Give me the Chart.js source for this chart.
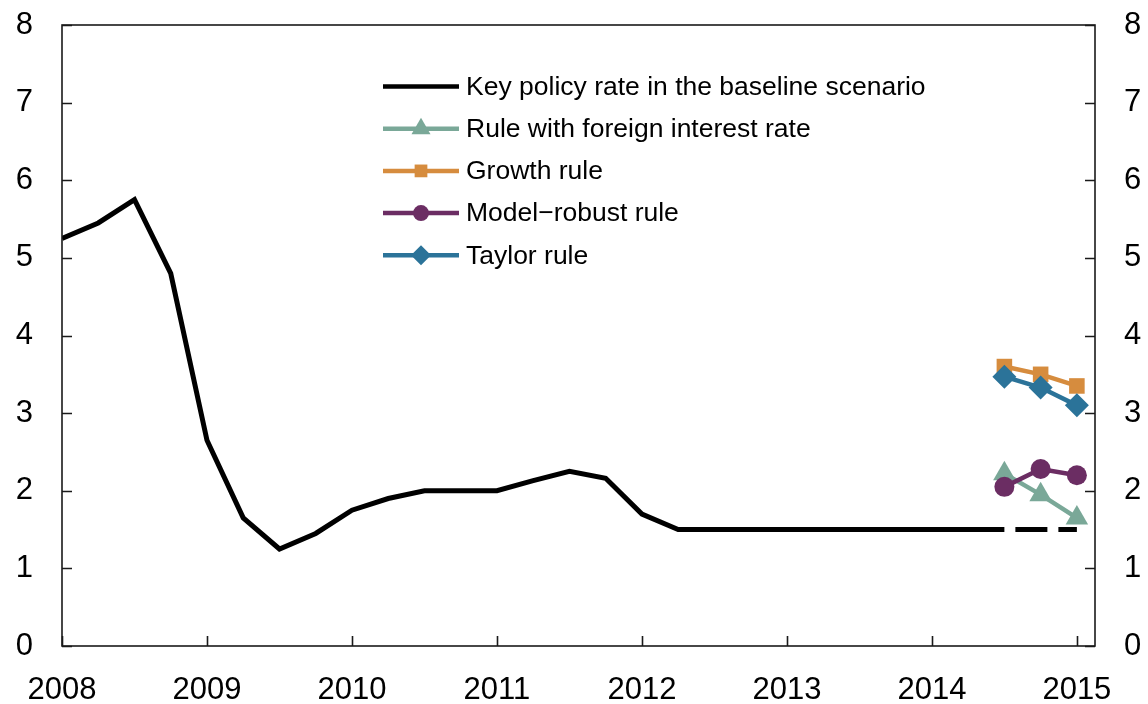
<!DOCTYPE html>
<html><head><meta charset="utf-8">
<script src="https://cdn.jsdelivr.net/npm/chart.js@4.4.1/dist/chart.umd.min.js"></script>
<style>html,body{margin:0;padding:0;background:#fff}#wrap{width:1148px;height:704px;position:relative}</style>
</head><body><div id="wrap"><canvas id="c" width="1148" height="704"></canvas></div>
<script>
// ---- data ----
const policyDates = [2008, 2008.25, 2008.5, 2008.75, 2009, 2009.25, 2009.5, 2009.75,
  2010, 2010.25, 2010.5, 2010.75, 2011, 2011.25, 2011.5, 2011.75,
  2012, 2012.25, 2012.5, 2012.75, 2013, 2013.25, 2013.5, 2013.75,
  2014, 2014.25, 2014.5, 2014.75, 2015];
const policyRate = [5.25, 5.45, 5.75, 4.8, 2.65, 1.65, 1.25, 1.45,
  1.75, 1.9, 2.0, 2.0, 2.0, 2.13, 2.25, 2.16,
  1.7, 1.5, 1.5, 1.5, 1.5, 1.5, 1.5, 1.5,
  1.5, 1.5, 1.5, 1.5, 1.5];
const forecastStart = 2014.5;
const ruleDates = [2014.5, 2014.75, 2015];
const foreignRule = [2.22, 1.95, 1.65];
const growthRule = [3.6, 3.5, 3.35];
const robustRule = [2.05, 2.28, 2.2];
const taylorRule = [3.47, 3.33, 3.1];
const yearTicks = [2008, 2009, 2010, 2011, 2012, 2013, 2014, 2015];
const rateTicks = [0, 1, 2, 3, 4, 5, 6, 7, 8];
const seriesNames = ['Key policy rate in the baseline scenario', 'Rule with foreign interest rate',
  'Growth rule', 'Model\u2212robust rule', 'Taylor rule'];

const FONT = "'Liberation Sans', Arial, Helvetica, sans-serif";
const COL = { black: '#000000', green: '#7aa898', orange: '#d68c3e', purple: '#6b2d63', blue: '#2b7399' };

const pts = (xs, ys) => xs.map((x, i) => ({ x: x, y: ys[i] }));

function ruleSet(label, ys, color, style, radius, legendRadius) {
  return {
    label: label, data: pts(ruleDates, ys), borderColor: color, backgroundColor: color,
    borderWidth: 4.5, pointStyle: style, pointRadius: radius, pointBorderWidth: 0,
    pointBackgroundColor: color, pointHoverRadius: radius, tension: 0, order: 1,
    legendStyle: style, legendRadius: legendRadius
  };
}

const datasets = [
  {
    label: seriesNames[0], data: pts(policyDates, policyRate), borderColor: COL.black,
    borderWidth: 5, pointRadius: 0, tension: 0, borderCapStyle: 'butt', borderJoinStyle: 'miter', order: 5,
    segment: {
      borderDash: ctx => ctx.p0.parsed.x >= forecastStart ? [32, 11] : undefined,
      borderDashOffset: ctx => ctx.p0.parsed.x >= forecastStart ? 32 : 0
    },
    legendStyle: null
  },
  ruleSet(seriesNames[1], foreignRule, COL.green, 'triangle', 13, 11),
  ruleSet(seriesNames[2], growthRule, COL.orange, 'rect', 11, 9),
  ruleSet(seriesNames[3], robustRule, COL.purple, 'circle', 10, 8),
  ruleSet(seriesNames[4], taylorRule, COL.blue, 'rectRot', 12, 10)
];
datasets[1].order = 4; datasets[3].order = 3; datasets[2].order = 2; datasets[4].order = 1;

const frameAndTicks = {
  id: 'frameAndTicks',
  afterDatasetsDraw(chart) {
    const { ctx, chartArea: a, scales } = chart;
    ctx.save();
    ctx.strokeStyle = '#1a1a1a';
    ctx.lineWidth = 1.6;
    ctx.beginPath();
    rateTicks.forEach(v => {
      const y = Math.round(scales.y.getPixelForValue(v)) + 0.5;
      ctx.moveTo(a.left, y); ctx.lineTo(a.left + 10, y);
      ctx.moveTo(a.right, y); ctx.lineTo(a.right - 10, y);
    });
    yearTicks.forEach(v => {
      const x = Math.round(scales.x.getPixelForValue(v)) + 0.5;
      ctx.moveTo(x, a.bottom); ctx.lineTo(x, a.bottom - 10);
    });
    ctx.stroke();
    ctx.strokeRect(a.left, a.top, a.right - a.left, a.bottom - a.top);
    ctx.restore();
  }
};

const legendPlugin = {
  id: 'customLegend',
  afterDraw(chart) {
    const { ctx } = chart;
    const x0 = 383, x1 = 459, tx = 466, y0 = 86.5, dy = 42.2;
    ctx.save();
    chart.data.datasets.forEach((ds, i) => {
      const y = y0 + i * dy;
      ctx.strokeStyle = ds.borderColor;
      ctx.lineWidth = 4.5;
      ctx.lineCap = 'butt';
      ctx.beginPath(); ctx.moveTo(x0, y); ctx.lineTo(x1, y); ctx.stroke();
      if (ds.legendStyle) {
        ctx.fillStyle = ds.borderColor;
        ctx.strokeStyle = ds.borderColor;
        Chart.helpers.drawPoint(ctx, { pointStyle: ds.legendStyle, radius: ds.legendRadius, rotation: 0, borderWidth: 0 }, (x0 + x1) / 2, y);
      }
      ctx.fillStyle = '#000';
      ctx.font = '26.5px ' + FONT;
      ctx.textAlign = 'left';
      ctx.textBaseline = 'middle';
      ctx.fillText(ds.label, tx, y + 1);
    });
    ctx.restore();
  }
};

const tickFont = { family: FONT, size: 31 };
const noVPad = (w) => s => { s.width = w; s.paddingTop = 0; s.paddingBottom = 0; };

new Chart(document.getElementById('c'), {
  type: 'line',
  data: { datasets: datasets },
  options: {
    responsive: false, animation: false, devicePixelRatio: 1,
    layout: { padding: { top: 25, left: 0, right: 0, bottom: 0 } },
    plugins: { legend: { display: false }, tooltip: { enabled: false } },
    scales: {
      x: {
        type: 'linear', min: 2008, max: 2015.125,
        afterBuildTicks: s => { s.ticks = yearTicks.map(v => ({ value: v })); },
        afterFit: s => { s.height = 58; s.paddingLeft = 0; s.paddingRight = 0; },
        grid: { display: false, drawTicks: false }, border: { display: false },
        ticks: { font: tickFont, color: '#000', padding: 26, maxRotation: 0, autoSkip: false, callback: v => String(v) }
      },
      y: {
        position: 'left', min: 0, max: 8,
        afterBuildTicks: s => { s.ticks = rateTicks.map(v => ({ value: v })); },
        afterFit: noVPad(62),
        grid: { display: false, drawTicks: false }, border: { display: false },
        ticks: { font: tickFont, color: '#000', padding: 29, callback: v => String(v) }
      },
      y2: {
        position: 'right', min: 0, max: 8,
        afterBuildTicks: s => { s.ticks = rateTicks.map(v => ({ value: v })); },
        afterFit: noVPad(53),
        grid: { display: false, drawTicks: false }, border: { display: false },
        ticks: { font: tickFont, color: '#000', padding: 29, callback: v => String(v) }
      }
    }
  },
  plugins: [frameAndTicks, legendPlugin]
});
</script></body></html>
